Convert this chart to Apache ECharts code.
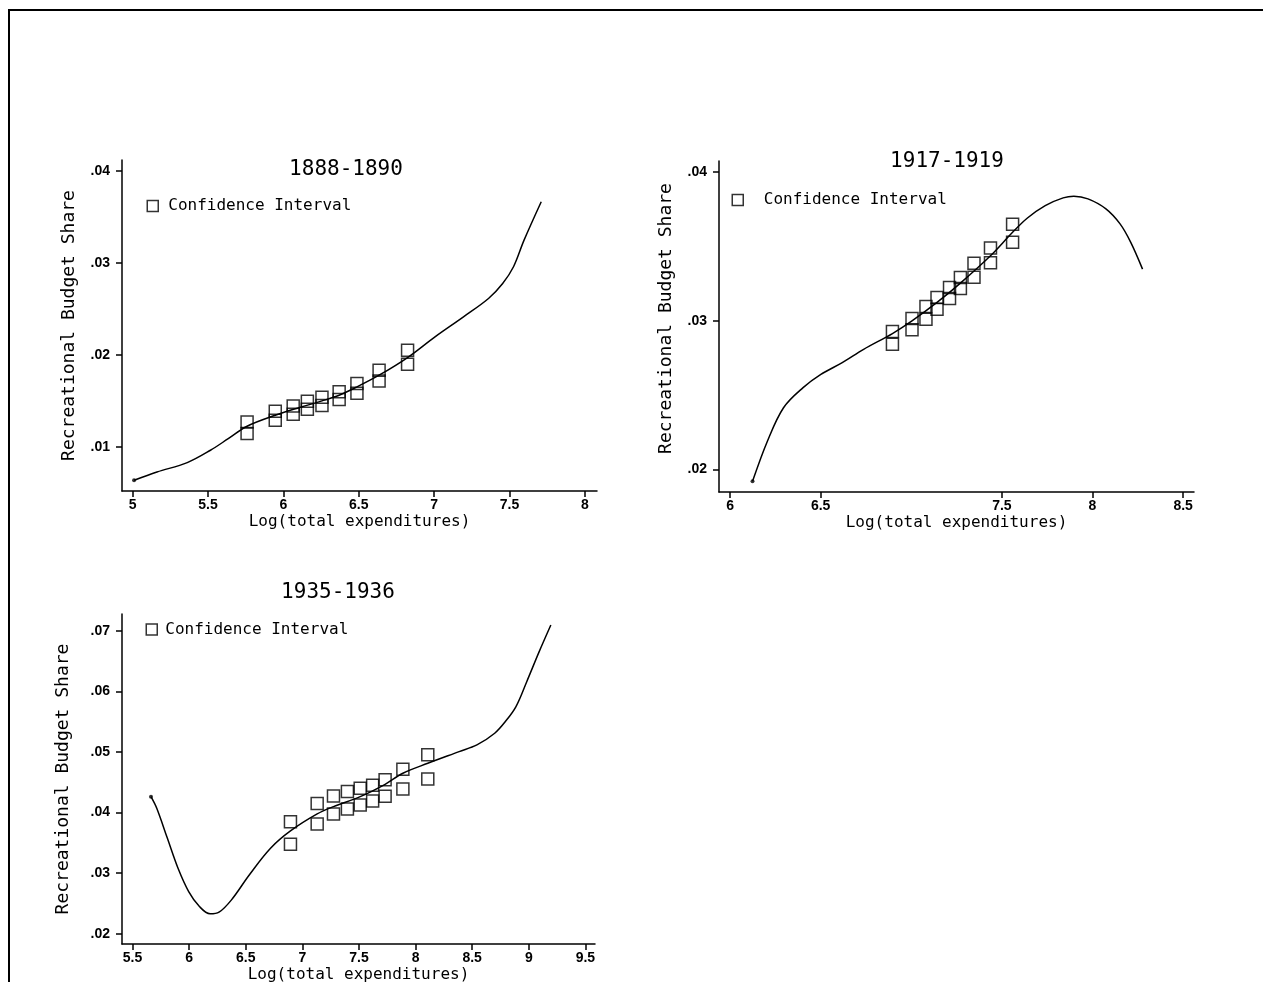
<!DOCTYPE html>
<html>
<head>
<meta charset="utf-8">
<title>Recreational Budget Share</title>
<script src="https://cdn.jsdelivr.net/npm/echarts@6/dist/echarts.min.js"></script>
<style>
  html, body { margin: 0; padding: 0; background: #fff; }
  #chart { width: 1263px; height: 982px; }
</style>
</head>
<body>
<div id="chart"></div>
<script>
// panel titles
const panelTitles = ['1888-1890', '1917-1919', '1935-1936']

// 1888-1890: fitted curve and confidence interval points
const curve1X = [5.009, 5.161, 5.362, 5.516, 5.634, 5.759, 5.946, 6.107, 6.256, 6.37, 6.488, 6.635, 6.824, 7.006, 7.195, 7.361, 7.455, 7.527, 7.597, 7.711]
const curve1Y = [0.00638, 0.00728, 0.0083, 0.00964, 0.0109, 0.01225, 0.01344, 0.01428, 0.0150, 0.01562, 0.01652, 0.01779, 0.01971, 0.02196, 0.02413, 0.02612, 0.02775, 0.02957, 0.03246, 0.03663]
const ci1X = [5.759, 5.946, 6.065, 6.159, 6.256, 6.37, 6.488, 6.635, 6.824]
const ci1Upper = [0.01272, 0.01388, 0.01446, 0.01496, 0.0154, 0.0160, 0.01688, 0.01833, 0.02051]
const ci1Lower = [0.01145, 0.0129, 0.01355, 0.01409, 0.01449, 0.01514, 0.01583, 0.01717, 0.01899]
const xTicks1 = [5, 5.5, 6, 6.5, 7, 7.5, 8]
const yTicks1 = [0.01, 0.02, 0.03, 0.04]

// 1917-1919
const curve2X = [6.124, 6.206, 6.295, 6.403, 6.501, 6.619, 6.737, 6.896, 7.004, 7.142, 7.271, 7.437, 7.559, 7.641, 7.739, 7.838, 7.897, 7.975, 8.074, 8.152, 8.211, 8.276]
const curve2Y = [0.01921, 0.02191, 0.02416, 0.02551, 0.0264, 0.02719, 0.02809, 0.02915, 0.0300, 0.03124, 0.03254, 0.03438, 0.03596, 0.03692, 0.03775, 0.03827, 0.03838, 0.0382, 0.03753, 0.03652, 0.03528, 0.03348]
const ci2X = [6.896, 7.004, 7.081, 7.142, 7.211, 7.271, 7.346, 7.437, 7.559]
const ci2Upper = [0.02928, 0.03016, 0.03097, 0.03157, 0.03225, 0.03292, 0.03387, 0.0349, 0.03649]
const ci2Lower = [0.02843, 0.0294, 0.03011, 0.03079, 0.03151, 0.03218, 0.03294, 0.03391, 0.03528]
const xTicks2 = [6, 6.5, 7.5, 8, 8.5]
const yTicks2 = [0.02, 0.03, 0.04]

// 1935-1936
const curve3X = [5.663, 5.714, 5.808, 5.902, 5.996, 6.091, 6.185, 6.264, 6.374, 6.531, 6.719, 6.895, 7.131, 7.275, 7.511, 7.731, 7.888, 8.108, 8.385, 8.542, 8.699, 8.793, 8.887, 8.982, 9.092, 9.195]
const curve3Y = [0.04264, 0.04072, 0.03576, 0.03081, 0.02696, 0.02449, 0.02328, 0.02355, 0.02559, 0.0297, 0.03411, 0.03697, 0.03978, 0.04099, 0.04264, 0.04468, 0.0465, 0.04815, 0.05008, 0.05118, 0.05311, 0.05504, 0.05752, 0.06163, 0.06659, 0.07099]
const ci3X = [6.895, 7.131, 7.275, 7.398, 7.511, 7.621, 7.731, 7.888, 8.108]
const ci3Upper = [0.03851, 0.04149, 0.04275, 0.04347, 0.04402, 0.04452, 0.04545, 0.04716, 0.04956]
const ci3Lower = [0.03477, 0.03813, 0.03978, 0.04061, 0.04127, 0.04193, 0.0427, 0.04391, 0.04556]
const xTicks3 = [5.5, 6, 6.5, 7, 7.5, 8, 8.5, 9, 9.5]
const yTicks3 = [0.02, 0.03, 0.04, 0.05, 0.06, 0.07]

const ciName = 'Confidence Interval'
const monoFont = '"DejaVu Sans Mono", "Liberation Mono", monospace'

const chart = echarts.init(document.getElementById('chart'))

// layout of the three panels (pixels) and the value range each axis spans
const panels = [
  { grid: { left: 122, top: 160, width: 475, height: 331 }, xRange: [4.929, 8.081], yRange: [0.005217, 0.04116],
    xTicks: xTicks1, yTicks: yTicks1, curveX: curve1X, curveY: curve1Y, ciX: ci1X, ciUp: ci1Upper, ciLo: ci1Lower,
    title: [346, 170], legend: [146.5, 198, 5], yNameGap: 44, yNameShift: 0 },
  { grid: { left: 719, top: 161, width: 475, height: 331 }, xRange: [5.939, 8.56], yRange: [0.018495, 0.04075],
    xTicks: xTicks2, yTicks: yTicks2, curveX: curve2X, curveY: curve2Y, ciX: ci2X, ciUp: ci2Upper, ciLo: ci2Lower,
    title: [947, 162], legend: [731.5, 192, 15.5], yNameGap: 44, yNameShift: 16 },
  { grid: { left: 122, top: 614, width: 473, height: 330 }, xRange: [5.407, 9.585], yRange: [0.0183, 0.07281],
    xTicks: xTicks3, yTicks: yTicks3, curveX: curve3X, curveY: curve3Y, ciX: ci3X, ciUp: ci3Upper, ciLo: ci3Lower,
    title: [338, 593], legend: [145.5, 621.5, 3], yNameGap: 50, yNameShift: 0 }
]

const tickFmt = v => String(v).replace(/^0\./, '.')
const axisBase = {
  type: 'value',
  splitLine: { show: false },
  axisLine: { onZero: false, lineStyle: { color: '#000', width: 1.5 } },
  axisTick: { length: 6, lineStyle: { color: '#000', width: 1.5 } }
}
const tickLabelStyle = { color: '#000', fontFamily: 'Liberation Sans', fontWeight: 'bold', fontSize: 14 }

const grids = []
const xAxes = []
const yAxes = []
const series = []
const legends = []
const graphics = [{
  type: 'rect',
  z: -10,
  shape: { x: 9, y: 10, width: 1400, height: 1100 },
  style: { fill: 'none', stroke: '#000', lineWidth: 2 }
}]

panels.forEach((p, i) => {
  grids.push(Object.assign({ outerBoundsMode: 'none', containLabel: false }, p.grid))
  xAxes.push(Object.assign({}, axisBase, {
    gridIndex: i,
    min: p.xRange[0],
    max: p.xRange[1],
    name: 'Log(total expenditures)',
    nameLocation: 'middle',
    nameGap: 23,
    nameTextStyle: { fontFamily: monoFont, fontSize: 16, color: '#000' },
    axisTick: Object.assign({}, axisBase.axisTick, { customValues: p.xTicks }),
    axisLabel: Object.assign({ customValues: p.xTicks, formatter: tickFmt, margin: 7 }, tickLabelStyle)
  }))
  yAxes.push(Object.assign({}, axisBase, {
    gridIndex: i,
    min: p.yRange[0],
    max: p.yRange[1],
    name: 'Recreational Budget Share',
    nameLocation: 'middle',
    nameGap: p.yNameGap,
    nameTextStyle: { fontFamily: monoFont, fontSize: 18, color: '#000', padding: [0, 0, 0, p.yNameShift] },
    axisTick: Object.assign({}, axisBase.axisTick, { customValues: p.yTicks }),
    axisLabel: Object.assign({ customValues: p.yTicks, formatter: tickFmt, margin: 12 }, tickLabelStyle)
  }))

  series.push({
    type: 'line',
    xAxisIndex: i,
    yAxisIndex: i,
    data: p.curveX.map((x, k) => [x, p.curveY[k]]),
    showSymbol: false,
    smooth: 0.35,
    lineStyle: { color: '#000', width: 1.5 },
    silent: true,
    z: 3
  })
  // small dot marking where the fitted curve starts
  series.push({
    type: 'scatter',
    xAxisIndex: i,
    yAxisIndex: i,
    data: [[p.curveX[0], p.curveY[0]]],
    symbol: 'circle',
    symbolSize: 4,
    itemStyle: { color: '#000' },
    silent: true,
    z: 4
  })
  const ciData = []
  p.ciX.forEach((x, k) => {
    ciData.push([x, p.ciUp[k]])
    ciData.push([x, p.ciLo[k]])
  })
  series.push({
    name: ciName,
    type: 'scatter',
    xAxisIndex: i,
    yAxisIndex: i,
    data: ciData,
    symbol: 'rect',
    symbolSize: 12,
    itemStyle: { color: 'rgba(0,0,0,0)', borderColor: '#000', borderWidth: 1.5 },
    silent: true,
    z: 5
  })

  legends.push({
    data: [ciName],
    left: p.legend[0],
    top: p.legend[1],
    padding: 0,
    itemWidth: 11,
    itemHeight: 11,
    selectedMode: false,
    itemStyle: { color: 'rgba(0,0,0,0)', borderColor: '#000', borderWidth: 1.5 },
    textStyle: { fontFamily: monoFont, fontSize: 16, color: '#000', padding: [0, 0, 0, p.legend[2]] }
  })

  graphics.push({
    type: 'text',
    x: p.title[0],
    y: p.title[1],
    style: {
      text: panelTitles[i],
      font: '21px ' + monoFont,
      fill: '#000',
      align: 'center',
      verticalAlign: 'middle',
      textAlign: 'center',
      textVerticalAlign: 'middle'
    }
  })
})

chart.setOption({
  backgroundColor: '#fff',
  animation: false,
  grid: grids,
  xAxis: xAxes,
  yAxis: yAxes,
  legend: legends,
  series: series,
  graphic: graphics
})
</script>
</body>
</html>
